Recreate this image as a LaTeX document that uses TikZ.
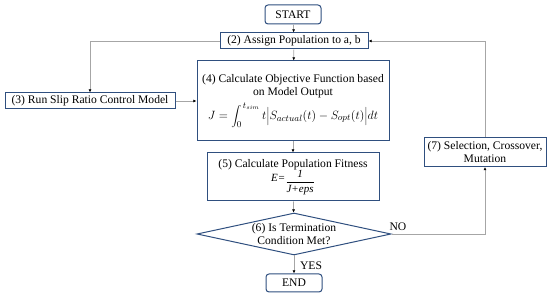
\documentclass[tikz,border=0pt]{standalone}
\usepackage{fontspec}
\setmainfont{Liberation Serif}
\usetikzlibrary{arrows.meta,shapes.geometric}
\definecolor{boxblue}{HTML}{2F4F7F}
\definecolor{linegray}{HTML}{A6A6A6}
\begin{document}
\begin{tikzpicture}[x=1pt,y=-1pt,
  box/.style={draw=boxblue,line width=1pt,fill=white,inner sep=1pt,align=center,font=\fontsize{11.6}{13}\selectfont},
  term/.style={box,rounded corners=3pt},
  conn/.style={draw=linegray,line width=0.7pt,-{Latex[length=3.2pt,width=3pt,color=black]}},
  lbl/.style={font=\fontsize{11.6}{13}\selectfont,inner sep=0pt}]
\useasboundingbox (0,0) rectangle (550,296);
\node[term,minimum width=56pt,minimum height=19pt] (start) at (293,14.5) {START};
\node[box,minimum width=148pt,minimum height=16pt] (n2) at (294,41) {(2) Assign Population to a, b};
\node[box,minimum width=192pt,minimum height=80pt] (n4) at (293,101) {(4) Calculate Objective Function based\\on Model Output\\[4pt]
  {\fontsize{13}{15}\selectfont$J=\displaystyle\int_0^{\,t_{sim}} t\Bigl|S_{actual}(t)-S_{opt}(t)\Bigr|dt$}};
\node[box,minimum width=170pt,minimum height=16pt] (n3) at (90,101) {(3) Run Slip Ratio Control Model};
\node[box,minimum width=172pt,minimum height=48pt] (n5) at (293,177) {(5) Calculate Population Fitness\\[-1pt]
  {\fontsize{11}{12}\selectfont\itshape E=\raisebox{-0.6ex}{$\displaystyle\frac{\mbox{\itshape 1}}{\mbox{\itshape J+eps}}$}}};
\node[draw=boxblue,line width=1pt,diamond,aspect=4.6,minimum width=194pt,minimum height=42pt,inner sep=0pt,align=center,font=\fontsize{11.6}{13}\selectfont] (n6) at (294,234) {(6) Is Termination\\Condition Met?};
\node[box,minimum width=122pt,minimum height=29pt] (n7) at (485,152) {(7) Selection, Crossover,\\Mutation};
\node[term,minimum width=56pt,minimum height=18pt] (end) at (294,283) {END};
\draw[conn] (start) -- (n2);
\draw[conn] (n2) -- (n4);
\draw[conn] (n4) -- (n5);
\draw[conn] (n5) -- (n6);
\draw[conn] (n6) -- (end);
\draw[conn] (n3.east) -- (n3.east -| n4.west);
\draw[conn] (n2.west) -| (n3.north);
\draw[conn] (n6.east) -| (n7.south);
\draw[conn] (n7.north) |- (n2.east);
\node[lbl] (no) at (398,227) {NO};
\node[lbl] (yes) at (311,266) {YES};
\end{tikzpicture}
\end{document}
